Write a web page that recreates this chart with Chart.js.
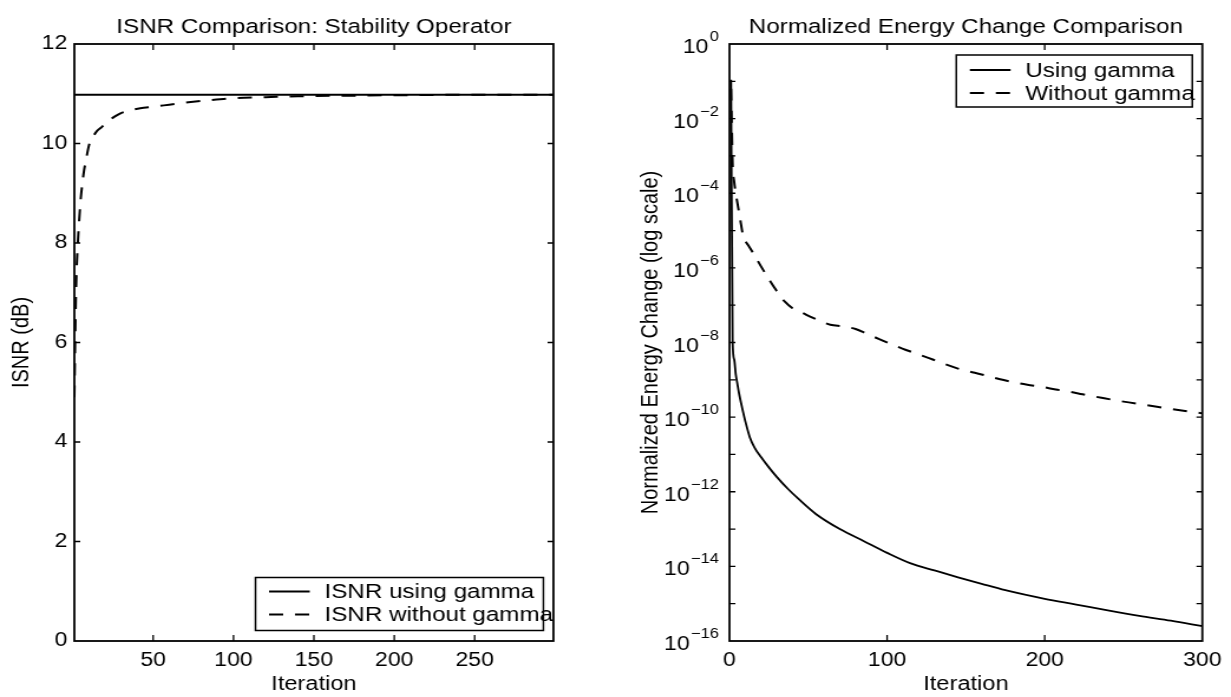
<!DOCTYPE html>
<html>
<head>
<meta charset="utf-8">
<script src="https://cdn.jsdelivr.net/npm/chart.js@4.4.1/dist/chart.umd.min.js"></script>
<style>
html,body{margin:0;padding:0;background:#fff;width:1231px;height:697px;overflow:hidden}
.wrap{position:absolute;top:0;transform:scaleX(1.18);transform-origin:0 0}
#w1{left:0}
#w2{left:615px}
canvas{display:block}
</style>
</head>
<body>
<div class="wrap" id="w1"><canvas id="c1" width="521" height="697"></canvas></div>
<div class="wrap" id="w2"><canvas id="c2" width="522" height="697"></canvas></div>
<script>
// ---------------- data: left panel (ISNR) ----------------
const leftTitle = 'ISNR Comparison: Stability Operator';
const leftYLabel = 'ISNR (dB)';
const xLabel = 'Iteration';
const leftLegend = ['ISNR using gamma', 'ISNR without gamma'];
const isnrIterGamma = [1, 299];
const isnrGamma = [10.98, 10.98];
const isnrIterNoGamma = [1, 2, 3, 4, 5, 6, 7, 8, 10, 12, 15, 18, 22, 26, 30, 35, 42, 50, 60, 70, 85, 100, 120, 140, 170, 200, 250, 299];
const isnrNoGamma = [4.9, 7.0, 7.9, 8.45, 8.9, 9.2, 9.45, 9.62, 9.95, 10.1, 10.25, 10.33, 10.45, 10.54, 10.61, 10.66, 10.71, 10.74, 10.78, 10.82, 10.87, 10.91, 10.93, 10.95, 10.96, 10.97, 10.98, 10.98];
const leftXTicks = [50, 100, 150, 200, 250];
const leftYTicks = [0, 2, 4, 6, 8, 10, 12];

// ---------------- data: right panel (energy change) ----------------
const rightTitle = 'Normalized Energy Change Comparison';
const rightYLabel = 'Normalized Energy Change (log scale)';
const rightLegend = ['Using gamma', 'Without gamma'];
const energyIterGamma = [1, 2, 3, 4, 5, 6, 8, 10, 13, 16, 20, 25, 30, 37, 44, 55, 70, 85, 100, 115, 130, 145, 160, 175, 200, 220, 240, 260, 280, 300];
const energyGamma = [1.1e-1, 1.0e-8, 3.5e-9, 1.4e-9, 7.9e-10, 4.5e-10, 1.8e-10, 7.9e-11, 2.8e-11, 1.5e-11, 8.5e-12, 4.5e-12, 2.5e-12, 1.2e-12, 6.3e-13, 2.5e-13, 1.0e-13, 4.8e-14, 2.3e-14, 1.2e-14, 7.8e-15, 5.1e-15, 3.4e-15, 2.3e-15, 1.35e-15, 9.5e-16, 6.6e-16, 4.7e-16, 3.5e-16, 2.5e-16];
const energyIterNoGamma = [1, 2, 3, 4, 5, 6, 7, 8, 9, 10, 12, 15, 20, 25, 30, 35, 40, 47, 55, 64, 72, 80, 86, 95, 103, 112, 120, 129, 137, 145, 154, 163, 171, 181, 189, 198, 207, 216, 224, 236, 250, 265, 280, 300];
const energyNoGamma = [6.3e-2, 6.3e-4, 2.0e-4, 1.0e-4, 5.6e-5, 3.2e-5, 1.8e-5, 1.0e-5, 6.3e-6, 5.2e-6, 4.0e-6, 2.5e-6, 1.1e-6, 5.0e-7, 2.4e-7, 1.26e-7, 8.3e-8, 6.0e-8, 4.2e-8, 3.0e-8, 2.7e-8, 2.3e-8, 1.8e-8, 1.23e-8, 8.9e-9, 6.3e-9, 4.8e-9, 3.5e-9, 2.6e-9, 2.0e-9, 1.6e-9, 1.3e-9, 1.05e-9, 8.5e-10, 7.4e-10, 6.5e-10, 5.5e-10, 4.8e-10, 4.1e-10, 3.3e-10, 2.6e-10, 2.1e-10, 1.66e-10, 1.26e-10];
const rightXTicks = [0, 100, 200, 300];
const rightYDecades = [1, 1e-1, 1e-2, 1e-3, 1e-4, 1e-5, 1e-6, 1e-7, 1e-8, 1e-9, 1e-10, 1e-11, 1e-12, 1e-13, 1e-14, 1e-15, 1e-16];

// ---------------- styling helpers ----------------
const FAMILY = "'Liberation Sans', Arial, Helvetica, sans-serif";
const tickFont = {family: FAMILY, size: 19.5, weight: 'normal'};
const labelFont = {family: FAMILY, size: 20, weight: 'normal'};
const titleFont = {family: FAMILY, size: 20.5, weight: 'normal'};
const LEG_FS = 20.5;
const DASH = [12, 10];
const pts = (xs, ys) => xs.map((x, i) => ({x: x, y: ys[i]}));

const framePlugin = {
  id: 'frame',
  afterDatasetsDraw(chart, args, opts) {
    const ctx = chart.ctx, a = chart.chartArea;
    const xs = chart.scales.x, ys = chart.scales.y;
    ctx.save();
    ctx.strokeStyle = '#000';
    ctx.fillStyle = '#000';
    ctx.setLineDash([]);
    ctx.lineWidth = 1.3;
    ctx.beginPath();
    xs.ticks.forEach(t => {
      const p = xs.getPixelForValue(t.value);
      if (p <= a.left + 2 || p >= a.right - 2) return;
      ctx.moveTo(p, a.bottom); ctx.lineTo(p, a.bottom - 6);
      ctx.moveTo(p, a.top); ctx.lineTo(p, a.top + 6);
    });
    ys.ticks.forEach(t => {
      const p = ys.getPixelForValue(t.value);
      if (p <= a.top + 2 || p >= a.bottom - 2) return;
      ctx.moveTo(a.left, p); ctx.lineTo(a.left + 5, p);
      ctx.moveTo(a.right, p); ctx.lineTo(a.right - 5, p);
    });
    ctx.stroke();
    ctx.lineWidth = 1.8;
    ctx.strokeRect(a.left, a.top, a.right - a.left, a.bottom - a.top);

    if (opts.logLabels) {
      ys.ticks.forEach(t => {
        const e = Math.round(Math.log10(t.value));
        if (e % 2 !== 0) return;
        const y = ys.getPixelForValue(t.value);
        const ex = e === 0 ? '0' : '\u2212' + String(-e);
        ctx.font = '19.5px ' + FAMILY;
        const w1 = ctx.measureText('10').width;
        ctx.font = '14px ' + FAMILY;
        const w2 = ctx.measureText(ex).width;
        const xEnd = a.left - 9;
        ctx.textAlign = 'left';
        ctx.textBaseline = 'alphabetic';
        ctx.font = '19.5px ' + FAMILY;
        ctx.fillText('10', xEnd - w2 - w1 - 1, y + 9);
        ctx.font = '14px ' + FAMILY;
        ctx.fillText(ex, xEnd - w2, y - 3);
      });
    }

    const lg = opts.legend;
    if (lg) {
      const bx = a.right - lg.right - lg.width;
      const by = lg.top != null ? a.top + lg.top : a.bottom - lg.bottom - lg.height;
      ctx.fillStyle = '#fff';
      ctx.fillRect(bx, by, lg.width, lg.height);
      ctx.lineWidth = 1.5;
      ctx.strokeRect(bx, by, lg.width, lg.height);
      ctx.font = LEG_FS + 'px ' + FAMILY;
      ctx.textBaseline = 'middle';
      ctx.textAlign = 'left';
      ctx.fillStyle = '#000';
      chart.data.datasets.forEach((d, i) => {
        const y = by + lg.row0 + i * lg.rowGap;
        ctx.lineWidth = d.borderWidth;
        ctx.setLineDash(d.borderDash || []);
        ctx.beginPath();
        ctx.moveTo(bx + lg.line0, y); ctx.lineTo(bx + lg.line1, y);
        ctx.stroke();
        ctx.setLineDash([]);
        ctx.fillText(d.label, bx + lg.text, y + 1);
      });
    }
    ctx.restore();
  }
};

function makeScales(o) {
  return {
    x: {
      type: 'linear', min: o.xmin, max: o.xmax,
      afterBuildTicks: s => { s.ticks = o.xticks.map(v => ({value: v})); },
      afterFit: s => { s.height = 56; },
      grid: {display: false, drawTicks: false},
      border: {display: false},
      ticks: {font: tickFont, color: '#000', padding: 8, maxRotation: 0, autoSkip: false},
      title: {display: true, text: xLabel, font: labelFont, color: '#000', padding: {top: 0, bottom: 1}}
    },
    y: {
      type: o.ytype, min: o.ymin, max: o.ymax,
      afterBuildTicks: s => { s.ticks = o.yticks.map(v => ({value: v})); },
      afterFit: s => { s.width = o.ywidth; },
      grid: {display: false, drawTicks: false},
      border: {display: false},
      ticks: {display: o.ytickDisplay, font: tickFont, color: '#000', padding: 6, autoSkip: false},
      title: {display: true, text: o.ylabel, font: labelFont, color: '#000', padding: {top: o.ytitlePad, bottom: 0}}
    }
  };
}

function commonOpts(title, scales, frameOpts, padRight) {
  return {
    responsive: false,
    animation: false,
    devicePixelRatio: 1,
    layout: {padding: {left: 0, right: padRight, top: 0, bottom: 0}},
    plugins: {
      legend: {display: false},
      tooltip: {enabled: false},
      title: {display: true, text: title, font: titleFont, color: '#000', fullSize: false, padding: {top: 15, bottom: 4.4}},
      frame: frameOpts
    },
    scales: scales,
    elements: {point: {radius: 0}}
  };
}

new Chart(document.getElementById('c1'), {
  type: 'line',
  data: {
    datasets: [
      {label: leftLegend[0], data: pts(isnrIterGamma, isnrGamma), borderColor: '#000', borderWidth: 1.8, fill: false, tension: 0},
      {label: leftLegend[1], data: pts(isnrIterNoGamma, isnrNoGamma), borderColor: '#000', borderWidth: 2, borderDash: DASH, fill: false, cubicInterpolationMode: 'monotone'}
    ]
  },
  options: commonOpts(leftTitle,
    makeScales({xmin: 1, xmax: 299, xticks: leftXTicks, ytype: 'linear', ymin: 0, ymax: 12, yticks: leftYTicks,
      ywidth: 63, ylabel: leftYLabel, ytitlePad: 6, ytickDisplay: true}),
    {legend: {right: 8.5, bottom: 10.5, width: 244, height: 53, row0: 14, rowGap: 23, line0: 11.5, line1: 46, text: 58.5}},
    52),
  plugins: [framePlugin]
});

new Chart(document.getElementById('c2'), {
  type: 'line',
  data: {
    datasets: [
      {label: rightLegend[0], data: pts(energyIterGamma, energyGamma), borderColor: '#000', borderWidth: 1.8, fill: false, cubicInterpolationMode: 'monotone'},
      {label: rightLegend[1], data: pts(energyIterNoGamma, energyNoGamma), borderColor: '#000', borderWidth: 2, borderDash: DASH, fill: false, cubicInterpolationMode: 'monotone'}
    ]
  },
  options: commonOpts(rightTitle,
    makeScales({xmin: 0, xmax: 300, xticks: rightXTicks, ytype: 'logarithmic', ymin: 1e-16, ymax: 1, yticks: rightYDecades,
      ywidth: 97, ylabel: rightYLabel, ytitlePad: 18, ytickDisplay: false}),
    {logLabels: true, legend: {right: 8.5, top: 11, width: 200, height: 52, row0: 15, rowGap: 23, line0: 11.5, line1: 46, text: 58.5}},
    18),
  plugins: [framePlugin]
});
</script>
</body>
</html>
